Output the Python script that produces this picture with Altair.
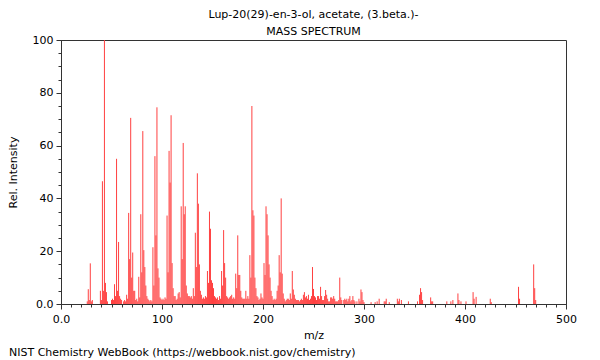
import altair as alt
import pandas as pd

title_text = "Lup-20(29)-en-3-ol, acetate, (3.beta.)-"
subtitle_text = "MASS SPECTRUM"
footer_text = "NIST Chemistry WebBook (https://webbook.nist.gov/chemistry)"

mz = [26, 27, 28, 29, 30, 31, 39, 40, 41, 42, 43, 44, 45, 46, 50, 51, 52, 53, 54, 55,
      56, 57, 58, 59, 60, 62, 63, 64, 65, 66, 67, 68, 69, 70, 71, 72, 73, 74, 75, 76,
      77, 78, 79, 80, 81, 82, 83, 84, 85, 86, 87, 88, 89, 90, 91, 92, 93, 94, 95, 96,
      97, 98, 99, 100, 101, 102, 103, 104, 105, 106, 107, 108, 109, 110, 111, 112, 113, 114, 115, 116,
      117, 118, 119, 120, 121, 122, 123, 124, 125, 126, 127, 128, 129, 130, 131, 132, 133, 134, 135, 136,
      137, 138, 139, 140, 141, 142, 143, 144, 145, 146, 147, 148, 149, 150, 151, 152, 153, 154, 155, 156,
      157, 158, 159, 160, 161, 162, 163, 164, 165, 166, 167, 168, 169, 170, 171, 172, 173, 174, 175, 176,
      177, 178, 179, 180, 181, 182, 183, 184, 185, 186, 187, 188, 189, 190, 191, 192, 193, 194, 195, 196,
      197, 198, 199, 200, 201, 202, 203, 204, 205, 206, 207, 208, 209, 210, 211, 212, 213, 214, 215, 216,
      217, 218, 219, 220, 221, 222, 223, 224, 225, 226, 227, 228, 229, 230, 231, 232, 233, 234, 235, 236,
      237, 238, 239, 240, 241, 242, 243, 244, 245, 246, 247, 248, 249, 250, 251, 252, 253, 254, 255, 256,
      257, 258, 259, 260, 261, 262, 263, 264, 265, 266, 267, 268, 269, 270, 271, 272, 273, 274, 275, 276,
      277, 278, 280, 281, 282, 283, 284, 285, 286, 287, 288, 289, 290, 291, 293, 295, 296, 297, 298, 299,
      300, 307, 311, 313, 315, 320, 321, 322, 325, 333, 334, 335, 337, 344, 353, 355, 356, 357, 358, 366,
      367, 368, 382, 386, 388, 393, 394, 396, 401, 408, 409, 411, 425, 426, 453, 454, 468, 469, 470]

intensity = [1.0, 5.6, 1.5, 15.4, 1.0, 1.5, 5.0, 1.5, 46.5, 5.0, 100, 8.0, 4.5, 1.0, 1.5, 2.0, 1.5, 7.5, 3.0, 55.0,
             5.0, 23.5, 3.0, 2.0, 1.5, 1.0, 1.5, 1.0, 3.5, 2.0, 34.5, 17.0, 70.5, 10.0, 19.5, 5.0, 5.0, 1.5, 2.0, 1.0,
             10.3, 2.5, 34.0, 12.0, 65.5, 20.4, 14.0, 7.0, 3.0, 2.0, 1.5, 1.0, 1.5, 1.0, 21.5, 7.0, 56.0, 26.0, 74.5, 13.5,
             10.0, 2.5, 2.0, 1.5, 2.0, 1.5, 2.5, 2.0, 33.5, 12.0, 58.0, 46.0, 71.5, 15.5, 6.0, 3.0, 3.0, 1.5, 2.0, 4.0,
             4.5, 2.5, 37.0, 17.0, 61.0, 34.0, 37.0, 7.0, 4.0, 3.0, 3.0, 2.5, 3.0, 2.0, 6.0, 3.0, 27.0, 14.0, 49.5, 38.0,
             15.0, 5.0, 3.5, 2.0, 2.5, 2.0, 3.0, 2.5, 12.5, 8.0, 35.0, 28.5, 9.0, 8.0, 6.0, 3.0, 2.5, 2.0, 2.5, 1.5,
             3.0, 2.0, 12.5, 7.0, 28.0, 15.5, 10.0, 3.0, 2.5, 2.0, 2.5, 3.0, 3.5, 2.0, 2.5, 2.0, 11.5, 6.0, 26.0, 11.0,
             11.0, 5.0, 2.5, 2.0, 2.0, 2.0, 5.0, 2.0, 3.0, 2.0, 18.5, 10.0, 75.0, 35.5, 33.5, 10.0, 6.0, 3.0, 2.5, 1.5,
             2.0, 4.0, 2.5, 2.0, 15.5, 11.0, 37.0, 34.0, 26.0, 15.0, 10.0, 5.0, 3.0, 1.5, 2.0, 1.5, 2.0, 5.0, 7.0, 18.5,
             12.0, 40.0, 11.5, 4.0, 2.0, 1.0, 1.5, 2.0, 2.0, 1.5, 4.0, 2.0, 12.5, 5.5, 3.5, 2.0, 1.5, 1.5, 1.5, 1.0,
             1.5, 2.0, 1.5, 3.5, 4.5, 2.5, 3.0, 2.0, 3.5, 1.5, 2.0, 3.0, 14.0, 5.7, 3.0, 2.5, 1.5, 3.0, 3.0, 2.0,
             6.5, 3.0, 1.5, 1.5, 3.0, 5.3, 3.5, 2.0, 1.0, 1.0, 2.5, 2.5, 2.0, 3.0, 2.0, 1.0, 1.0, 1.0, 1.5, 10.0,
             2.5, 1.5, 1.5, 2.0, 1.5, 2.0, 1.0, 2.0, 3.0, 1.0, 1.5, 3.0, 1.5, 1.0, 1.0, 2.0, 1.0, 5.5, 4.5, 1.5,
             0.7, 0.7, 0.7, 1.0, 2.0, 1.0, 1.0, 2.0, 0.7, 2.0, 1.0, 2.0, 1.5, 1.0, 1.0, 3.5, 6.0, 4.5, 1.5, 2.5,
             1.0, 1.0, 1.0, 1.0, 1.5, 4.0, 1.5, 1.0, 1.0, 4.5, 2.0, 2.7, 2.0, 0.7, 6.5, 2.0, 15.0, 6.0, 1.5]

x_major = [0, 100, 200, 300, 400, 500]
x_minor = list(range(0, 501, 10))
y_major = [0, 20, 40, 60, 80, 100]
y_minor = list(range(0, 101, 5))

df = pd.DataFrame({"mz": mz, "intensity": intensity})
foot = pd.DataFrame({"t": [footer_text]})

FONT = "DejaVu Sans"
AX = "#333333"

xs = alt.Scale(domain=[0, 500], nice=False, zero=False)
ys = alt.Scale(domain=[0, 100], nice=False)

label_expr = "datum.value == 0 ? '0.0' : datum.label"

bars = alt.Chart(df).mark_rule(color="#ff4040", strokeWidth=1).encode(
    x=alt.X("mz:Q", scale=xs, axis=alt.Axis(
        values=x_major, title="m/z", labelExpr=label_expr, tickSize=5, grid=False,
        labelFlush=False, labelOverlap=False,
        labelFont=FONT, labelFontSize=11, titleFont=FONT, titleFontSize=11,
        titleFontWeight="normal", labelColor="#000", titleColor="#000",
        domainColor=AX, tickColor=AX, labelPadding=4, titlePadding=5, orient="bottom")),
    y=alt.Y("intensity:Q", scale=ys, axis=alt.Axis(
        values=y_major, title="Rel. Intensity", labelExpr=label_expr, tickSize=5, grid=False,
        labelFlush=False, labelOverlap=False,
        labelFont=FONT, labelFontSize=11, titleFont=FONT, titleFontSize=11,
        titleFontWeight="normal", labelColor="#000", titleColor="#000",
        domainColor=AX, tickColor=AX, labelPadding=3, titlePadding=14, orient="left")),
    y2=alt.datum(0),
)

minor = alt.Chart(df).mark_rule(opacity=0).encode(
    x=alt.X("mz:Q", scale=xs, axis=alt.Axis(
        values=x_minor, labels=False, tickSize=3, domain=False, grid=False, title=None,
        tickColor=AX, orient="bottom")),
    y=alt.Y("intensity:Q", scale=ys, axis=alt.Axis(
        values=y_minor, labels=False, tickSize=3, domain=False, grid=False, title=None,
        tickColor=AX, orient="left")),
)

footer = alt.Chart(foot).mark_text(
    align="left", baseline="middle", font=FONT, fontSize=11, color="#000"
).encode(x=alt.value(-52), y=alt.value(313), text="t:N")

chart = alt.layer(bars, minor, footer).resolve_axis(
    x="independent", y="independent"
).properties(
    width=505, height=264,
    title=alt.Title(title_text, subtitle=subtitle_text, font=FONT, fontSize=11,
                    fontWeight="normal", subtitleFont=FONT, subtitleFontSize=11,
                    anchor="middle", color="#000", subtitleColor="#000",
                    offset=-3, subtitlePadding=6),
    autosize=alt.AutoSizeParams(type="none"),
    padding={"left": 53, "top": 32, "right": 26, "bottom": 60},
).configure_view(stroke=AX, strokeWidth=1)

chart.save("out.html", embed_options={"renderer": "svg", "actions": False})
